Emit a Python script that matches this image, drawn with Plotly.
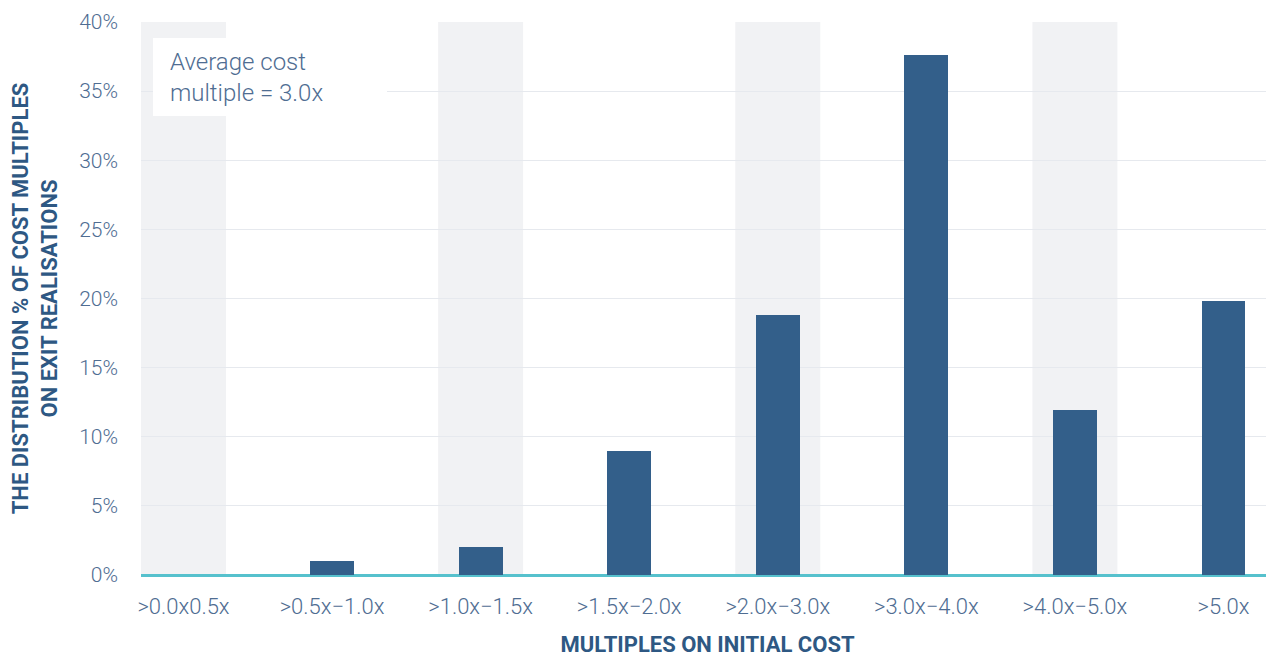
import plotly.graph_objects as go

categories = [">0.0x0.5x", ">0.5x\u22121.0x", ">1.0x\u22121.5x", ">1.5x\u22122.0x",
              ">2.0x\u22123.0x", ">3.0x\u22124.0x", ">4.0x\u22125.0x", ">5.0x"]
values = [0.0, 1.0, 2.0, 9.0, 18.8, 37.6, 11.9, 19.8]
banded = [0, 2, 4, 6]
y_ticks = [0, 5, 10, 15, 20, 25, 30, 35, 40]
y_tick_labels = [f"{v}%" for v in y_ticks]

TICK_COLOR = "#4f6d92"
TITLE_COLOR = "#2e5883"
BAR_COLOR = "#335f8a"

fig = go.Figure()
fig.add_trace(go.Bar(
    x=list(range(len(categories))), y=values,
    marker=dict(color=BAR_COLOR, line=dict(width=0)),
    width=0.296, hoverinfo="skip",
))

for i in banded:
    fig.add_shape(type="rect", xref="x", yref="paper", x0=i - 0.286, x1=i + 0.286,
                  y0=0, y1=1, fillcolor="#f1f2f4", line=dict(width=0), layer="below")

# white label box
fig.add_shape(type="rect", xref="paper", yref="paper", x0=0.0106, x1=0.2171,
              y0=0.830, y1=0.9711, fillcolor="white", line=dict(width=0), layer="above")
fig.add_annotation(
    xref="paper", yref="paper", x=0.0238, y=0.9005, xanchor="left", yanchor="middle",
    text="Average cost<br>multiple = 3.0x", showarrow=False, align="left",
    font=dict(family="Roboto", size=24, color=TICK_COLOR, weight=300),
)

fig.update_layout(
    width=1266, height=649,
    margin=dict(l=133, r=0, t=14, b=82),
    plot_bgcolor="white", paper_bgcolor="white",
    showlegend=False, bargap=0,
    font=dict(family="Roboto", color=TICK_COLOR),
)
fig.update_xaxes(
    range=[-0.286, 7.34], tickmode="array", tickvals=list(range(len(categories))),
    ticktext=categories, showgrid=False, showline=False, zeroline=False,
    tickfont=dict(family="Roboto", size=22, color=TICK_COLOR, weight=300),
    ticks="", ticklabelstandoff=16,
    title=dict(text="MULTIPLES ON INITIAL COST", standoff=18,
               font=dict(family="Roboto", size=22, color=TITLE_COLOR, weight=700)),
)
fig.update_yaxes(
    range=[0, 40], tickmode="array", tickvals=y_ticks, ticktext=y_tick_labels,
    showgrid=True, gridcolor="#e6e9ee", gridwidth=1,
    zeroline=True, zerolinecolor="#56c1cd", zerolinewidth=3, showline=False,
    tickfont=dict(family="Roboto", size=21, color=TICK_COLOR, weight=300),
    ticks="", ticklabelstandoff=22,
    title=dict(text="THE DISTRIBUTION % OF COST MULTIPLES<br>ON EXIT REALISATIONS", standoff=16,
               font=dict(family="Roboto", size=22, color=TITLE_COLOR, weight=700)),
)

fig.write_html("out.html")
